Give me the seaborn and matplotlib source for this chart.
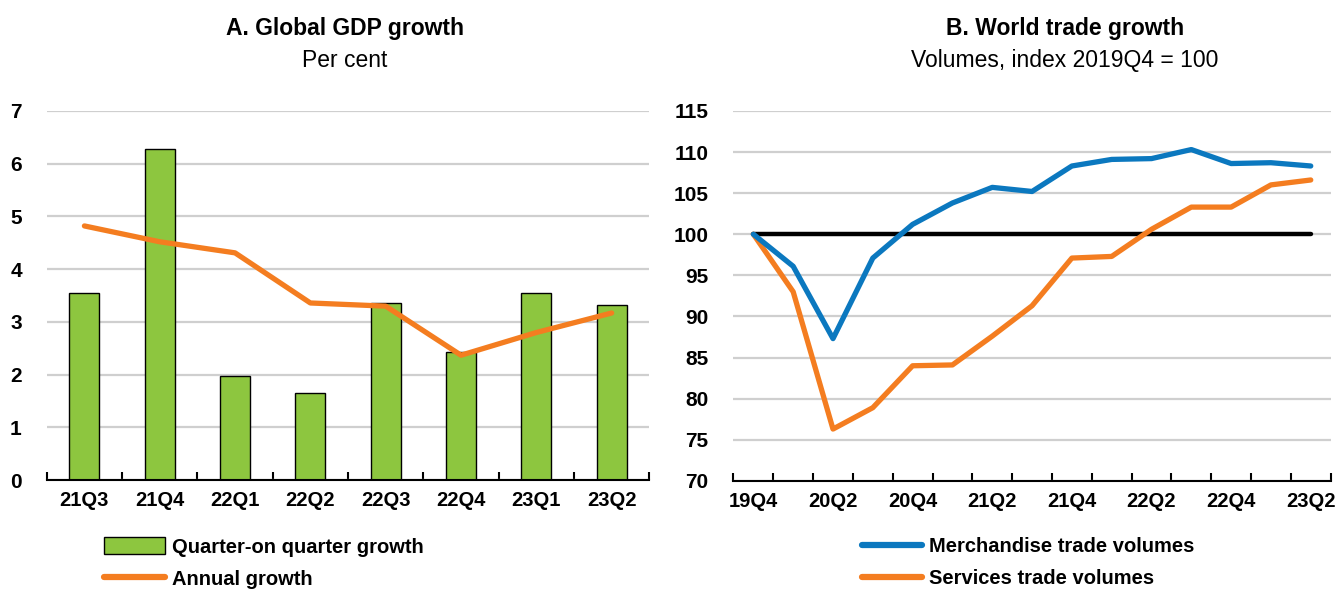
import pandas as pd
import seaborn as sns
import matplotlib.pyplot as plt
from matplotlib.patches import Patch
from matplotlib.lines import Line2D
from matplotlib.ticker import FixedLocator

# ---- data ----
gdp_quarters = ['21Q3', '21Q4', '22Q1', '22Q2', '22Q3', '22Q4', '23Q1', '23Q2']
gdp_qoq = [3.55, 6.28, 1.98, 1.65, 3.36, 2.44, 3.55, 3.33]
gdp_annual = [4.82, 4.52, 4.31, 3.36, 3.30, 2.37, 2.80, 3.17]

trade_quarters = ['19Q4', '20Q1', '20Q2', '20Q3', '20Q4', '21Q1', '21Q2', '21Q3',
                  '21Q4', '22Q1', '22Q2', '22Q3', '22Q4', '23Q1', '23Q2']
merch_vol = [100, 96.1, 87.3, 97.1, 101.2, 103.8, 105.7, 105.2,
             108.3, 109.1, 109.2, 110.3, 108.6, 108.7, 108.3]
serv_vol = [100, 93.0, 76.3, 78.9, 84.0, 84.1, 87.6, 91.3,
            97.1, 97.3, 100.6, 103.3, 103.3, 106.0, 106.6]
base_level = 100

GREEN = '#8DC63F'
ORANGE = '#F47D20'
BLUE = '#0B78BF'
GRID = '#CFCFCF'

sns.set_theme(style='white')
plt.rcParams['font.family'] = ['Liberation Sans', 'DejaVu Sans']
plt.rcParams['font.weight'] = 'bold'
plt.rcParams['text.color'] = 'black'
plt.rcParams['xtick.color'] = 'black'
plt.rcParams['ytick.color'] = 'black'

gdp = pd.DataFrame({'q': gdp_quarters, 'qoq': gdp_qoq, 'annual': gdp_annual})
gdp['pos'] = range(len(gdp))
trade = pd.DataFrame({'q': trade_quarters, 'merch': merch_vol, 'serv': serv_vol})
trade['pos'] = range(len(trade))
trade['base'] = base_level

fig = plt.figure(figsize=(13.36, 5.90), dpi=100)
ax1 = fig.add_axes([0.035, 0.186, 0.451, 0.626])
ax2 = fig.add_axes([0.549, 0.185, 0.447, 0.627])


def style_axis(ax, n):
    ax.set_xlim(-0.5, n - 0.5)
    for s in ['left', 'right', 'top']:
        ax.spines[s].set_visible(False)
    ax.spines['bottom'].set_color('black')
    ax.spines['bottom'].set_linewidth(1.5)
    ax.yaxis.grid(True, color=GRID, linewidth=1.6)
    ax.set_axisbelow(True)
    ax.xaxis.set_minor_locator(FixedLocator([i - 0.5 for i in range(n + 1)]))
    ax.tick_params(axis='x', which='major', bottom=False, length=0, pad=8, labelsize=14.5)
    ax.tick_params(axis='x', which='minor', bottom=True, direction='in',
                   length=6, width=1.5, color='black')
    ax.tick_params(axis='y', left=False, length=0, pad=18, labelsize=15)
    ax.set_xlabel('')
    ax.set_ylabel('')
    for lab in ax.get_xticklabels() + ax.get_yticklabels():
        lab.set_fontweight('bold')


# ---- panel A ----
sns.barplot(data=gdp, x='pos', y='qoq', color=GREEN, edgecolor='black',
            linewidth=1.0, width=0.4, saturation=1, ax=ax1, native_scale=True)
sns.lineplot(data=gdp, x='pos', y='annual', color=ORANGE, linewidth=3.8, ax=ax1)
ax1.set_ylim(0, 7)
ax1.set_yticks(range(0, 8))
ax1.set_xticks(gdp['pos'])
ax1.set_xticklabels(gdp['q'])
style_axis(ax1, len(gdp))

# ---- panel B ----
sns.lineplot(data=trade, x='pos', y='base', color='black', linewidth=3.2, ax=ax2)
sns.lineplot(data=trade, x='pos', y='serv', color=ORANGE, linewidth=3.8, ax=ax2)
sns.lineplot(data=trade, x='pos', y='merch', color=BLUE, linewidth=3.8, ax=ax2)
ax2.set_ylim(70, 115)
ax2.set_yticks(range(70, 116, 5))
ax2.set_xticks(trade['pos'][::2])
ax2.set_xticklabels(trade['q'][::2])
style_axis(ax2, len(trade))

# ---- titles ----
fig.text(0.258, 0.952, 'A. Global GDP growth', ha='center', va='center',
         fontsize=16.5, fontweight='bold')
fig.text(0.258, 0.898, 'Per cent', ha='center', va='center',
         fontsize=16.5, fontweight='normal')
fig.text(0.797, 0.952, 'B. World trade growth', ha='center', va='center',
         fontsize=16.5, fontweight='bold')
fig.text(0.797, 0.898, 'Volumes, index 2019Q4 = 100', ha='center', va='center',
         fontsize=16.5, fontweight='normal')

# ---- legends ----
h1 = [Patch(facecolor=GREEN, edgecolor='black', linewidth=1.0),
      Line2D([], [], color=ORANGE, linewidth=4.5, solid_capstyle='round')]
fig.legend(h1, ['Quarter-on quarter growth', 'Annual growth'],
           loc='upper left', bbox_to_anchor=(0.078, 0.089), frameon=False,
           fontsize=14.5, handlelength=3.0, handleheight=0.9, handletextpad=0.35,
           labelspacing=0.62, borderpad=0, borderaxespad=0)

h2 = [Line2D([], [], color=BLUE, linewidth=4.5, solid_capstyle='round'),
      Line2D([], [], color=ORANGE, linewidth=4.5, solid_capstyle='round')]
fig.legend(h2, ['Merchandise trade volumes', 'Services trade volumes'],
           loc='upper left', bbox_to_anchor=(0.645, 0.089), frameon=False,
           fontsize=14.5, handlelength=3.0, handletextpad=0.35,
           labelspacing=0.62, borderpad=0, borderaxespad=0)

fig.savefig('out.png', dpi=100)
